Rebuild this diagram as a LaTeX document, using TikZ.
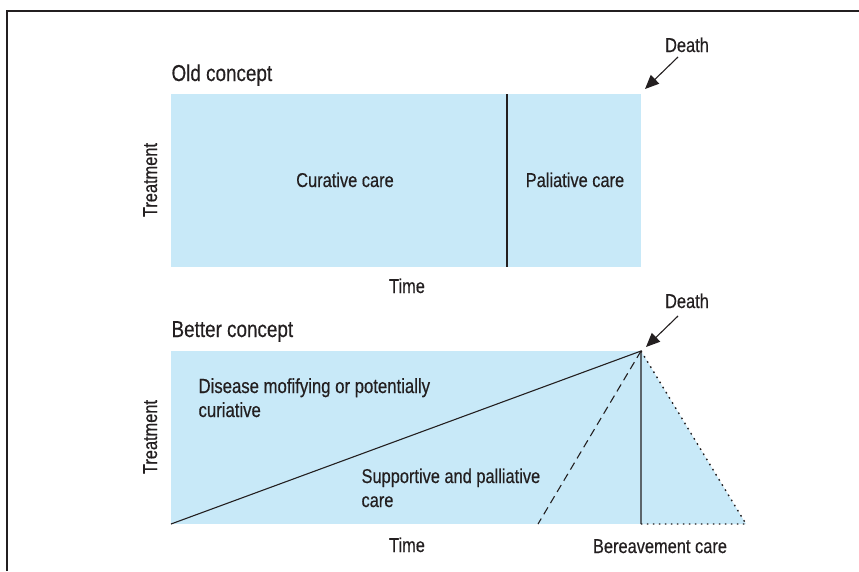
\documentclass[tikz,border=0pt]{standalone}
\usepackage{fontspec}
\setmainfont{Liberation Sans}[FakeStretch=0.82,FakeBold=0.4]
\usetikzlibrary{arrows.meta}
\definecolor{careblue}{RGB}{200,233,248}
\definecolor{inkgray}{RGB}{35,31,32}
\begin{document}
\begin{tikzpicture}[x=1pt,y=-1pt,line width=1.1pt,color=inkgray,
    txt/.style={font=\fontsize{20}{24}\selectfont,inner sep=0pt,text=inkgray},
    title/.style={font=\fontsize{23}{27}\selectfont,inner sep=0pt,anchor=base west,text=inkgray},
    axislabel/.style={txt,rotate=90,anchor=base},
    deatharrow/.style={-{Triangle[length=14pt,width=12pt]}},
    dotline/.style={line width=1.4pt,dash pattern=on 1.6pt off 4.4pt}]
	\useasboundingbox (0,0) rectangle (859,571);
    \draw[line width=1.3pt] (7,571) -- (7,11) -- (859,11);
    % old concept
    \fill[careblue] (171,94) rectangle (641,267);
    \coordinate (oldsplittop) at (507,94);
    \coordinate (oldsplitbot) at (507,267);
    \draw (oldsplittop) -- (oldsplitbot);
    \node[title] (oldtitle) at (171,81) {Old concept};
    \node[txt,anchor=base] (curative) at (345,187) {Curative care};
    \node[txt,anchor=base] (paliative) at (575,187) {Paliative care};
    \node[axislabel] (oldtreat) at (157,180) {Treatment};
    \node[txt,anchor=base] (oldtime) at (407,293) {Time};
    \node[txt,anchor=base] (olddeath) at (687,52) {Death};
    \coordinate (olddeathtail) at (678,57);
    \coordinate (olddeathtip) at (645,89);
    \draw[deatharrow] (olddeathtail) -- (olddeathtip);
    % better concept
    \fill[careblue] (171,351) rectangle (641,524);
    \fill[careblue] (641,351) -- (746,524) -- (641,524) -- cycle;
    \coordinate (peak) at (641,351);
    \coordinate (start) at (171,524);
    \coordinate (peakfoot) at (641,524);
    \coordinate (dashfoot) at (538,524);
    \coordinate (griefend) at (746,524);
    \draw (start) -- (peak) -- (peakfoot);
    \draw[dash pattern=on 8pt off 5pt] (peak) -- (dashfoot);
    \draw[dotline] (peak) -- (griefend) -- (peakfoot);
    \node[title] (bettertitle) at (171,337) {Better concept};
    \node[txt,anchor=base west,align=left,font=\fontsize{20.4}{24}\selectfont] (disease) at (198,417) {Disease mofifying or potentially\\curiative};
    \node[txt,anchor=base west,align=left] (supportive) at (361,507) {Supportive and palliative\\care};
    \node[axislabel] (bettertreat) at (157,437) {Treatment};
    \node[txt,anchor=base] (bettertime) at (407,552) {Time};
    \node[txt,anchor=base] (bereave) at (660,553) {Bereavement care};
    \node[txt,anchor=base] (betterdeath) at (687,308) {Death};
    \coordinate (betterdeathtail) at (678,316);
    \coordinate (betterdeathtip) at (646,347);
    \draw[deatharrow] (betterdeathtail) -- (betterdeathtip);
\end{tikzpicture}
\end{document}
